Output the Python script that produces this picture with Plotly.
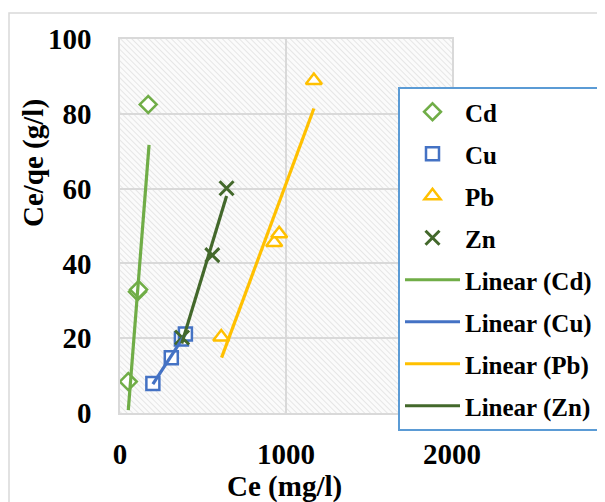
import base64
import plotly.graph_objects as go

# ---- data ----
cd_x = [50, 105, 112, 170]
cd_y = [8.4, 32.4, 33.0, 82.5]
cu_x = [198, 309, 370, 394]
cu_y = [7.9, 14.8, 19.8, 21.1]
pb_x = [610, 929, 959, 1168]
pb_y = [20.3, 45.6, 47.9, 88.9]
zn_x = [374, 556, 642]
zn_y = [20.2, 42.2, 60.1]

# trend line end points
cd_tx = [50, 175]
cd_ty = [0.8, 71.7]
cu_tx = [198, 394]
cu_ty = [7.7, 21.1]
pb_tx = [612, 1168]
pb_ty = [14.8, 81.4]
zn_tx = [372, 642]
zn_ty = [18.6, 58.0]

x_ticks = [0, 1000, 2000]
y_ticks = [0, 20, 40, 60, 80, 100]

C_CD = "#70AD47"
C_CU = "#4472C4"
C_PB = "#FFC000"
C_ZN = "#43682B"

FONT = "Liberation Serif"

fig = go.Figure()

def markers(name, x, y, color, symbol, size, lw=2.5, fill="white"):
    fig.add_trace(go.Scatter(
        x=x, y=y, mode="markers", name=name, legendgroup=name,
        marker=dict(symbol=symbol, size=size, color=fill,
                    line=dict(color=color, width=lw)),
    ))

def trend(name, x, y, color):
    fig.add_trace(go.Scatter(
        x=x, y=y, mode="lines", name=name, legendgroup=name,
        line=dict(color=color, width=3.2),
    ))

markers("Cd", cd_x, cd_y, C_CD, "diamond", 13)
markers("Cu", cu_x, cu_y, C_CU, "square", 13)
markers("Pb", pb_x, pb_y, C_PB, "triangle-up", 14)
markers("Zn", zn_x, zn_y, C_ZN, "x-thin", 14, lw=3, fill=C_ZN)
trend("Linear (Cd)", cd_tx, cd_ty, C_CD)
trend("Linear (Cu)", cu_tx, cu_ty, C_CU)
trend("Linear (Pb)", pb_tx, pb_ty, C_PB)
trend("Linear (Zn)", zn_tx, zn_ty, C_ZN)

# hatched plot-area background
svg = ('<svg xmlns="http://www.w3.org/2000/svg" width="332" height="374">'
       '<defs><pattern id="h" width="4" height="4" patternUnits="userSpaceOnUse" '
       'patternTransform="rotate(-45)"><rect width="4" height="4" fill="#fbfbfb"/>'
       '<line x1="0" y1="0" x2="0" y2="4" stroke="#e0e0e0" stroke-width="1.5"/>'
       '</pattern></defs><rect width="100%" height="100%" fill="url(#h)"/></svg>')
src = "data:image/svg+xml;base64," + base64.b64encode(svg.encode()).decode()
fig.add_layout_image(dict(source=src, xref="x", yref="y", x=0, y=100,
                          sizex=2000, sizey=100, sizing="stretch",
                          layer="below", xanchor="left", yanchor="top"))

axis_font = dict(family=FONT, size=29, color="black", weight="bold")
fig.update_xaxes(range=[0, 2000], tickvals=x_ticks, ticktext=[str(v) for v in x_ticks],
                 showgrid=True, gridcolor="#d9d9d9", gridwidth=1.5,
                 showline=True, linecolor="#d9d9d9", linewidth=1.5, mirror=True,
                 zeroline=False, ticks="", tickfont=axis_font, ticklabelstandoff=14)
fig.update_yaxes(range=[0, 100], tickvals=y_ticks, ticktext=[str(v) for v in y_ticks],
                 showgrid=True, gridcolor="#d9d9d9", gridwidth=1.5,
                 showline=True, linecolor="#d9d9d9", linewidth=1.5, mirror=True,
                 zeroline=False, ticks="", tickfont=axis_font, ticklabelstandoff=21)

OFF = 8  # page offset of the figure inside the window
W, H = 605, 502
# plot area in window pixels: x 120..452, y 39..413
L = 120 - OFF
T = 39 - OFF
R = W - (452 - OFF)
B = H - (413 - OFF)
pw, ph = W - L - R, H - T - B

def px(xw):
    return (xw - OFF - L) / pw

def py(yw):
    return (H - B - (yw - OFF)) / ph

fig.add_annotation(text="Ce (mg/l)", xref="paper", yref="paper",
                   x=px(284), y=py(486), xanchor="center", yanchor="middle",
                   showarrow=False,
                   font=dict(family=FONT, size=29, color="black", weight="bold"))
fig.add_annotation(text="Ce/qe (g/l)", xref="paper", yref="paper",
                   x=px(33), y=py(163), xanchor="center", yanchor="middle",
                   showarrow=False, textangle=-90,
                   font=dict(family=FONT, size=29, color="black", weight="bold"))

# outer chart border
fig.add_shape(type="rect", xref="paper", yref="paper",
              x0=px(9), y0=py(560), x1=px(700), y1=py(13),
              line=dict(color="#d9d9d9", width=1.5), fillcolor="rgba(0,0,0,0)",
              layer="below")

fig.update_layout(
    width=W, height=H,
    margin=dict(l=L, r=R, t=T, b=B),
    paper_bgcolor="white", plot_bgcolor="rgba(0,0,0,0)",
    showlegend=True,
    legend=dict(x=px(398), y=py(87), xanchor="left", yanchor="top",
                bgcolor="white", bordercolor="#5B9BD5", borderwidth=2,
                font=dict(family=FONT, size=25, color="black", weight="bold"),
                tracegroupgap=6.5, itemwidth=55, traceorder="grouped"),
)

fig.write_html("out.html")
